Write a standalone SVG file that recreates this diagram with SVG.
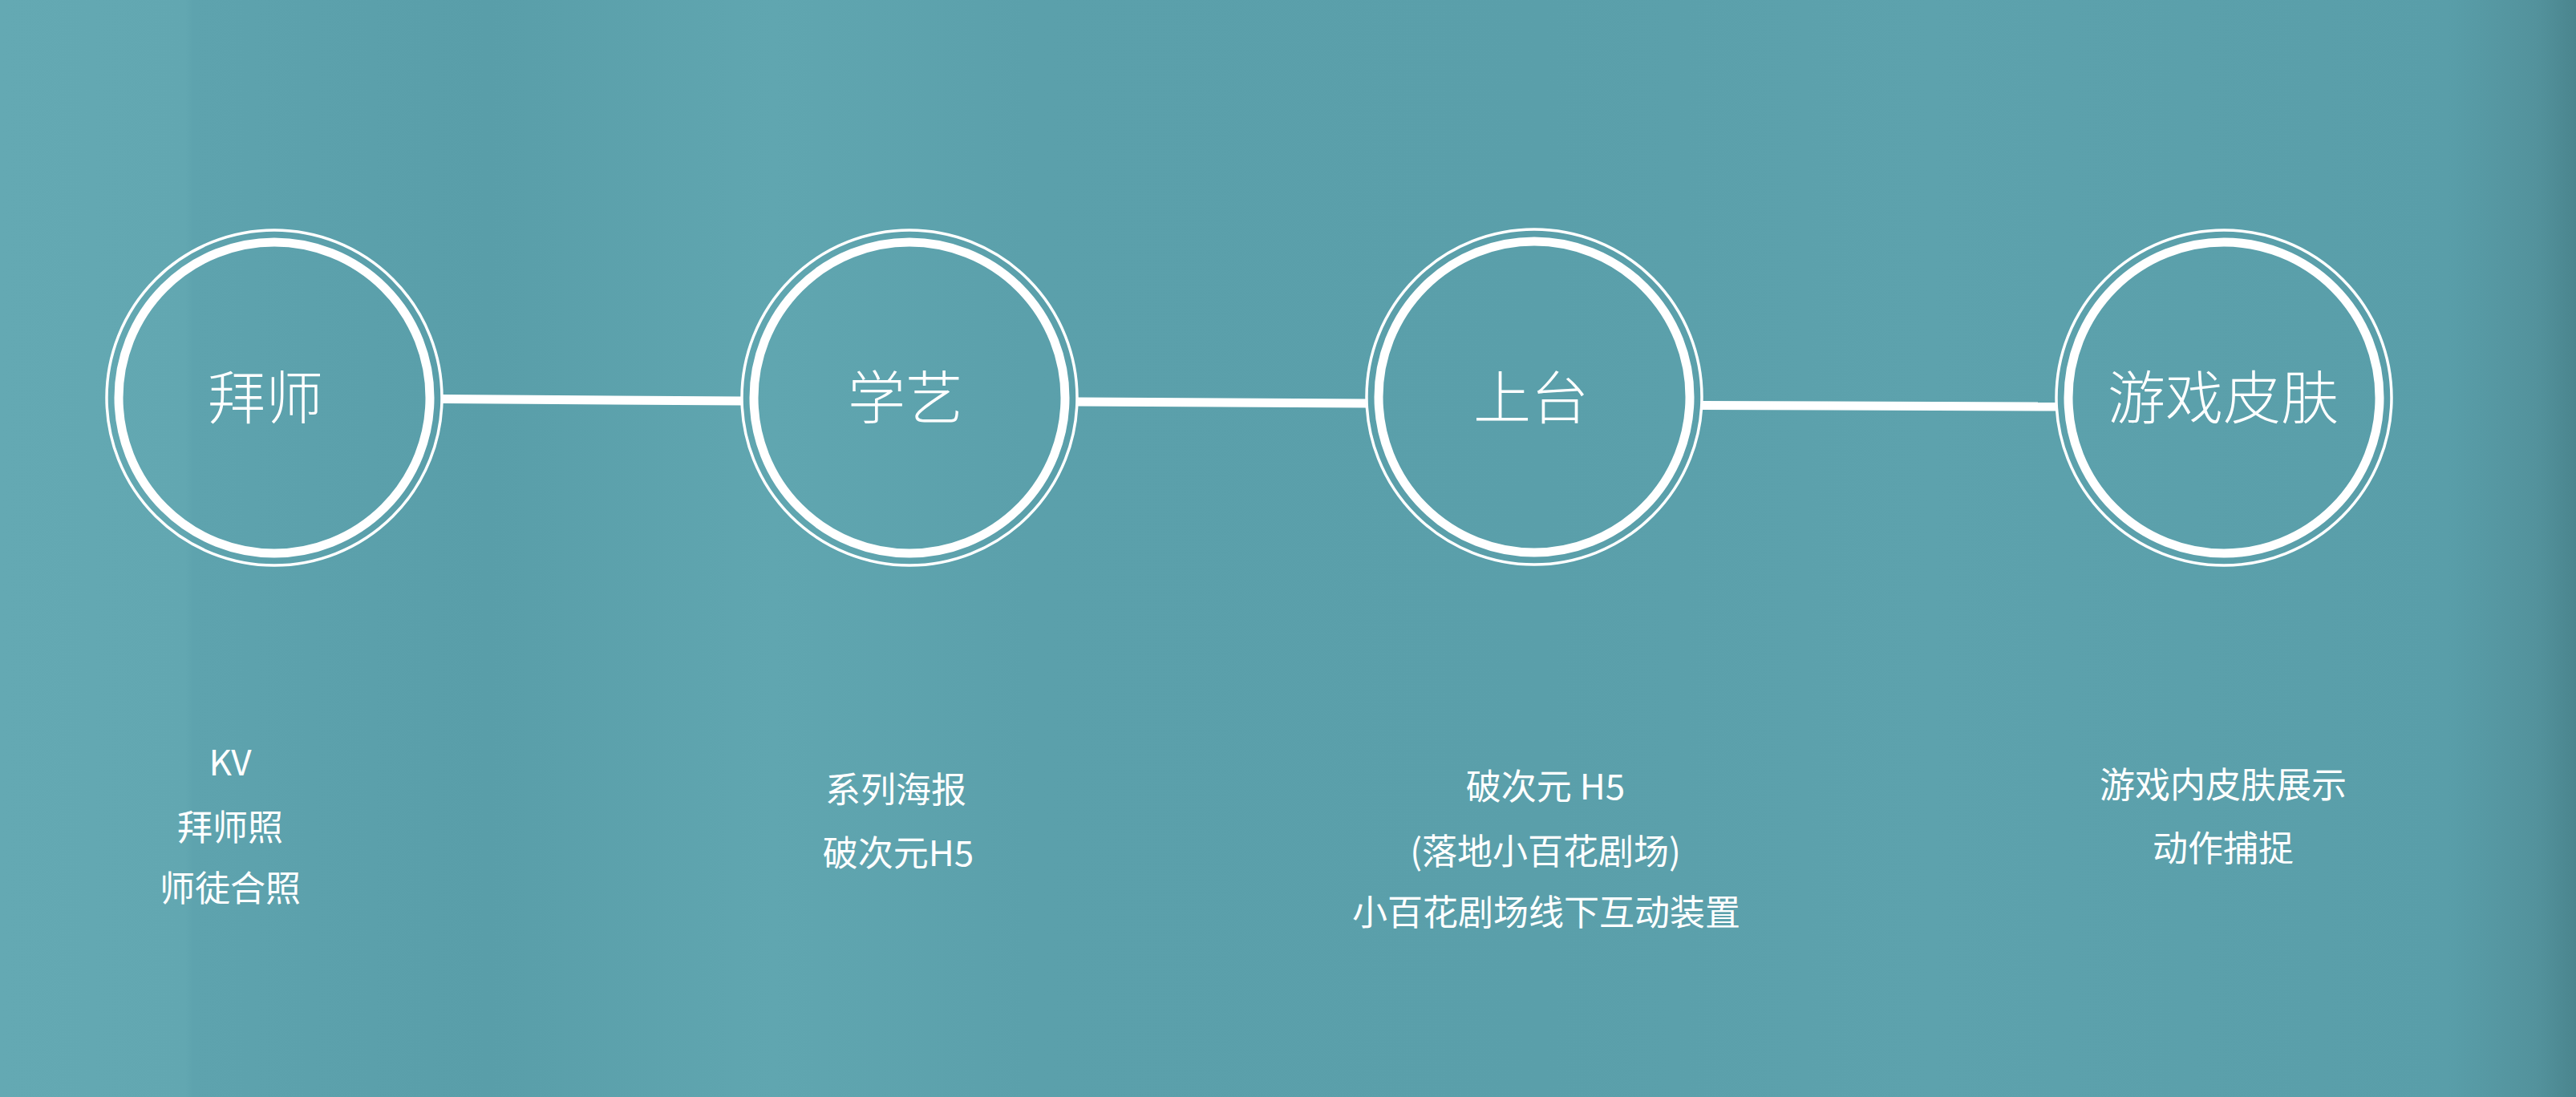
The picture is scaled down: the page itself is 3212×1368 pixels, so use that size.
<svg xmlns="http://www.w3.org/2000/svg" width="3212" height="1368" viewBox="0 0 3212 1368">
  <defs>
    <linearGradient id="bg" x1="0" y1="0" x2="1" y2="0">
      <stop offset="0" stop-color="#64a9b3"/>
      <stop offset="0.072" stop-color="#62a7b1"/>
      <stop offset="0.075" stop-color="#5ea3ae"/>
      <stop offset="0.19" stop-color="#599ea9"/>
      <stop offset="0.3" stop-color="#60a6b0"/>
      <stop offset="0.4" stop-color="#5ba0ab"/>
      <stop offset="0.6" stop-color="#5a9faa"/>
      <stop offset="0.75" stop-color="#5da2ad"/>
      <stop offset="0.95" stop-color="#599ea9"/>
      <stop offset="0.985" stop-color="#53929c"/>
      <stop offset="1" stop-color="#4a858e"/>
    </linearGradient>
  </defs>
  <style>
    .ring-thin { fill: none; stroke: #ffffff; stroke-width: 3.5; }
    .ring-thick { fill: none; stroke: #ffffff; stroke-width: 11; }
    .conn { stroke: #ffffff; stroke-width: 11; fill: none; }
    .title { fill: #ffffff; font-family: "Noto Sans CJK SC", "Noto Sans", sans-serif; font-size: 72px; font-weight: 300; text-anchor: middle; }
    .sub { fill: #ffffff; font-family: "Noto Sans CJK SC", "Noto Sans", sans-serif; font-size: 44px; font-weight: 400; text-anchor: middle; }
  </style>
  <rect x="0" y="0" width="3212" height="1368" fill="url(#bg)"/>

  <g id="connectors">
    <line class="conn" x1="551" y1="497.5" x2="925" y2="500"/>
    <line class="conn" x1="1343" y1="501" x2="1705" y2="503"/>
    <line class="conn" x1="2121" y1="505.5" x2="2563" y2="507"/>
  </g>

  <g id="node-baishi">
    <circle class="ring-thin" cx="342" cy="496" r="209"/>
    <circle class="ring-thick" cx="342" cy="496" r="194"/>
    <text class="title" x="331" y="522">拜师</text>
  </g>
  <g id="node-xueyi">
    <circle class="ring-thin" cx="1134" cy="496" r="209"/>
    <circle class="ring-thick" cx="1134" cy="496" r="194"/>
    <text class="title" x="1129" y="522">学艺</text>
  </g>
  <g id="node-shangtai">
    <circle class="ring-thin" cx="1913" cy="495" r="209"/>
    <circle class="ring-thick" cx="1913" cy="495" r="194"/>
    <text class="title" x="1909" y="522">上台</text>
  </g>
  <g id="node-youxipifu">
    <circle class="ring-thin" cx="2773" cy="496" r="209"/>
    <circle class="ring-thick" cx="2773" cy="496" r="194"/>
    <text class="title" x="2772" y="522">游戏皮肤</text>
  </g>

  <g id="desc-baishi">
    <text class="sub" x="287" y="967">KV</text>
    <text class="sub" x="287" y="1048">拜师照</text>
    <text class="sub" x="287" y="1124">师徒合照</text>
  </g>
  <g id="desc-xueyi">
    <text class="sub" x="1117" y="1001">系列海报</text>
    <text class="sub" x="1120" y="1080">破次元H5</text>
  </g>
  <g id="desc-shangtai">
    <text class="sub" x="1927" y="997">破次元 H5</text>
    <text class="sub" x="1927" y="1078">(落地小百花剧场)</text>
    <text class="sub" x="1928" y="1154">小百花剧场线下互动装置</text>
  </g>
  <g id="desc-youxipifu">
    <text class="sub" x="2772" y="995">游戏内皮肤展示</text>
    <text class="sub" x="2772" y="1074">动作捕捉</text>
  </g>
</svg>
